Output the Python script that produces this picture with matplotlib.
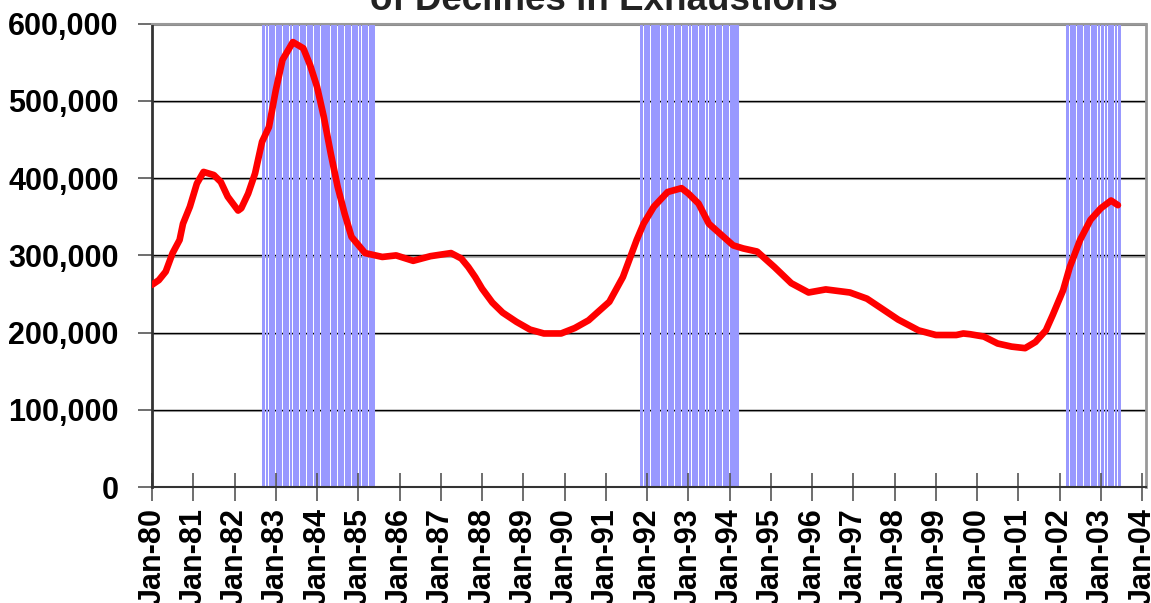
"""
Insured unemployment exhaustions chart with recession shading.
Recreated from a scanned Excel-style figure.
"""

import pandas as pd
import matplotlib.pyplot as plt
import matplotlib.dates as mdates
from matplotlib.ticker import FuncFormatter

# ------------------------------------------------------------
# 1. Data (thousands)
# ------------------------------------------------------------

dates = [
    "1980-01", "1980-03", "1980-05", "1980-07", "1980-09", "1980-10", "1980-12",
    "1981-02", "1981-04", "1981-07", "1981-09", "1981-11",
    "1982-02", "1982-03", "1982-05", "1982-07", "1982-09", "1982-11",
    "1983-01", "1983-03", "1983-06", "1983-09", "1983-11",
    "1984-01", "1984-03", "1984-05", "1984-07", "1984-09", "1984-11",
    "1985-03", "1985-08", "1985-12", "1986-05", "1986-10",
    "1987-04", "1987-07", "1987-09", "1987-11",
    "1988-01", "1988-04", "1988-07", "1988-11",
    "1989-03", "1989-07", "1989-12", "1990-04", "1990-08",
    "1991-02", "1991-06", "1991-10", "1991-12",
    "1992-03", "1992-07", "1992-11", "1993-01", "1993-04", "1993-07", "1993-10",
    "1994-02", "1994-05", "1994-09", "1995-02", "1995-07", "1995-12",
    "1996-05", "1996-12", "1997-05", "1997-09", "1998-02", "1998-08",
    "1999-01", "1999-07", "1999-09", "1999-11", "2000-03", "2000-07", "2000-11",
    "2001-03", "2001-06", "2001-09", "2001-11", "2002-02", "2002-04",
    "2002-07", "2002-10", "2003-01", "2003-04", "2003-06",
]

exhaustions_k = [
    262, 268, 279, 303, 320, 341, 363,
    393, 408, 404, 395, 376,
    358, 361, 380, 406, 447, 466,
    514, 553, 576, 568, 546,
    518, 479, 432, 389, 354, 324,
    303, 298, 300, 293, 299,
    303, 296, 285, 272,
    257, 239, 226, 214,
    204, 199, 199, 206, 216,
    240, 272, 320, 341,
    363, 382, 387, 380, 367, 341, 329,
    313, 309, 305, 285, 264, 252,
    256, 252, 244, 232, 217, 203,
    197, 197, 199, 198, 195, 186, 182,
    180, 188, 203, 223, 255, 285,
    320, 346, 361, 371, 365,
]

# recession periods (first and last month shaded)
recession_start = ["1982-09", "1991-11", "2002-03"]
recession_end = ["1985-05", "1994-03", "2003-06"]

y_ticks = [0, 100000, 200000, 300000, 400000, 500000, 600000]

# ------------------------------------------------------------
# 2. Plot settings
# ------------------------------------------------------------

plt.rcParams["font.family"] = ["Liberation Sans", "DejaVu Sans"]
plt.rcParams["font.weight"] = "bold"

x = pd.to_datetime(dates)
y = [v * 1000 for v in exhaustions_k]

fig = plt.figure(figsize=(11.51, 6.03), dpi=100)
ax = fig.add_axes([0.1321, 0.1919, 0.8636, 0.7691])

# ------------------------------------------------------------
# 3. Recession shading: one bar per month, small white gaps
# ------------------------------------------------------------

for start, end in zip(recession_start, recession_end):
    months = pd.date_range(start, end, freq="MS") + pd.Timedelta(days=14)
    ax.bar(months, [600000] * len(months), width=25.5,
           color="#9999FF", linewidth=0, antialiased=False, zorder=1)

# ------------------------------------------------------------
# 4. Gridlines (black with grey shadow), series line
# ------------------------------------------------------------

for v in y_ticks[1:]:
    ax.axhline(v - 1500, color="#b0b0b0", linewidth=1.5, zorder=0.5)
    ax.axhline(v, color="black", linewidth=1.0, zorder=0.6)

ax.plot(x, y, color="red", linewidth=4.8, solid_capstyle="round",
        solid_joinstyle="round", zorder=3)

# ------------------------------------------------------------
# 5. Axes
# ------------------------------------------------------------

ax.set_ylim(0, 600000)
ax.set_xlim(pd.Timestamp("1980-01-01"), pd.Timestamp("2004-02-05"))

ax.set_yticks(y_ticks)
ax.yaxis.set_major_formatter(FuncFormatter(lambda v, p: f"{int(v):,}"))

ax.xaxis.set_major_locator(mdates.YearLocator(1, month=1, day=1))
ax.xaxis.set_major_formatter(mdates.DateFormatter("%b-%y"))

ax.tick_params(axis="y", direction="out", length=10, width=1.2,
               color="#555555", pad=14, labelsize=22)
ax.tick_params(axis="x", direction="inout", length=20, width=1.2,
               color="#555555", pad=5, labelsize=22, labelrotation=90)

for lab in ax.get_xticklabels() + ax.get_yticklabels():
    lab.set_fontweight("bold")

ax.spines["left"].set_color("#333333")
ax.spines["left"].set_linewidth(2)
ax.spines["bottom"].set_color("#333333")
ax.spines["bottom"].set_linewidth(1.5)
ax.spines["top"].set_color("#999999")
ax.spines["top"].set_linewidth(1.5)
ax.spines["right"].set_color("#999999")
ax.spines["right"].set_linewidth(2)

fig.text(0.525, 1 - 10 / 603, "of Declines in Exhaustions",
         ha="center", va="baseline", fontsize=26.5, fontweight="bold",
         color="#222222")

fig.savefig("out.png", dpi=100)
plt.close(fig)
